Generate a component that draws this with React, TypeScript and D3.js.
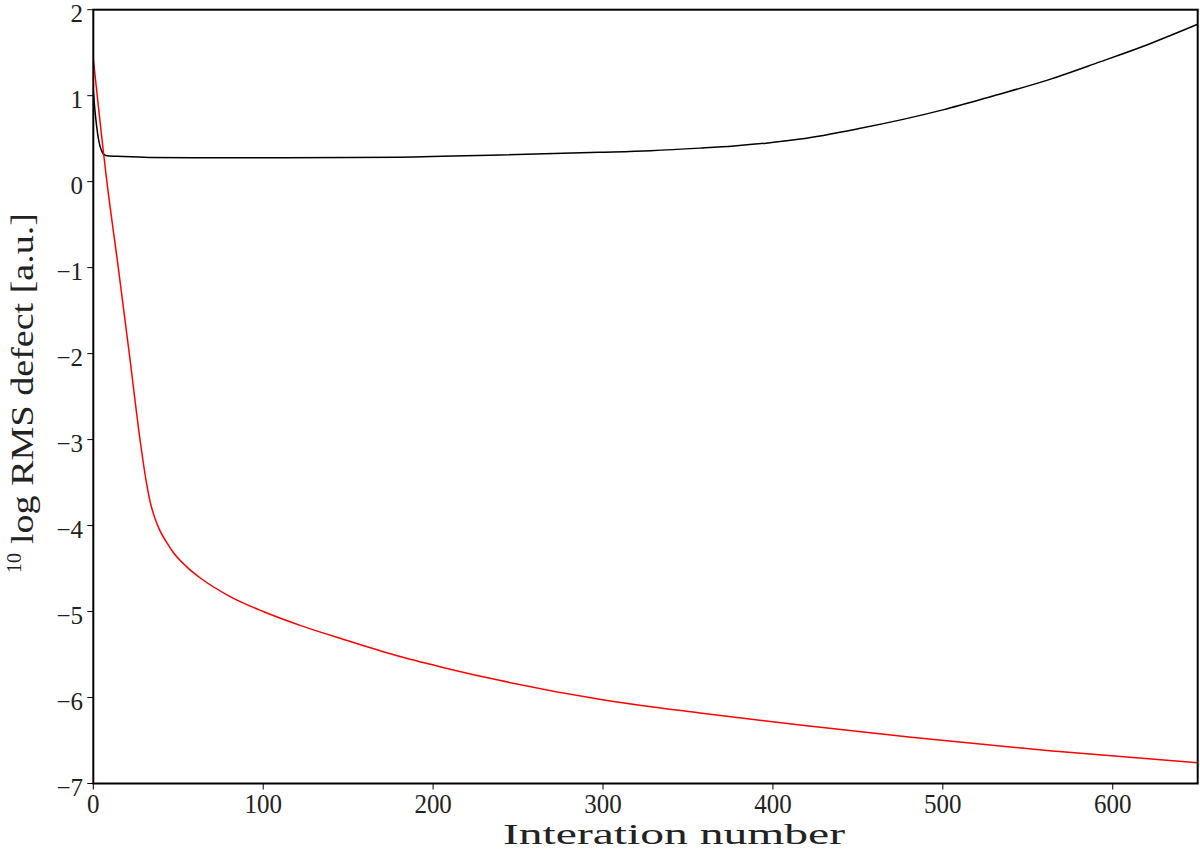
import React from "react";
import * as d3 from "d3";

const xTicks = [0, 100, 200, 300, 400, 500, 600];
const yTicks = [-7, -6, -5, -4, -3, -2, -1, 0, 1, 2];

// red series: iteration, 10log RMS defect
const redIter = [0, 8, 14.7, 21.2, 27.5, 31, 33.4, 36, 39, 43, 47, 55, 63, 80, 100, 123, 150, 180, 210, 239, 298, 357, 416, 480, 563, 650];
const redVal = [1.43, 0, -1, -2, -3, -3.47, -3.72, -3.9, -4.05, -4.19, -4.31, -4.48, -4.61, -4.82, -5.0, -5.17, -5.34, -5.52, -5.67, -5.8, -6.02, -6.18, -6.32, -6.46, -6.62, -6.76];

// black series
const blackIter = [0, 1, 2, 3, 4, 5, 6, 8, 14, 33, 60, 100, 150, 180, 239, 298, 328, 357, 377, 396, 416, 450, 500, 530, 563, 592, 620, 650];
const blackVal = [1.05, 0.82, 0.64, 0.5, 0.41, 0.355, 0.32, 0.3, 0.295, 0.282, 0.278, 0.279, 0.281, 0.285, 0.31, 0.341, 0.36, 0.39, 0.415, 0.448, 0.495, 0.615, 0.835, 1.0, 1.19, 1.39, 1.59, 1.83];

const W = 1200;
const H = 851;
const left = 93.3;
const right = 1197.7;
const top = 9.7;
const bottom = 783.5;

export default function App() {
  const x = d3.scaleLinear().domain([0, 650]).range([left, right]);
  const y = d3.scaleLinear().domain([-7, 2]).range([bottom, top]);
  const line = d3
    .line<[number, number]>()
    .x((d) => x(d[0]))
    .y((d) => y(d[1]))
    .curve(d3.curveMonotoneX);
  const red = redIter.map((v, i) => [v, redVal[i]] as [number, number]);
  const black = blackIter.map((v, i) => [v, blackVal[i]] as [number, number]);
  const font = "'Liberation Serif', 'Times New Roman', serif";
  const fmt = (v: number) => (v < 0 ? "\u2212" + Math.abs(v) : String(v));

  return (
    <svg
      width={W}
      height={H}
      style={{ position: "absolute", left: 0, top: 0, background: "#fff" }}
      fontFamily={font}
    >
      <defs>
        <clipPath id="plotclip">
          <rect x={left} y={top} width={right - left} height={bottom - top} />
        </clipPath>
      </defs>
      <g clipPath="url(#plotclip)">
        <path d={line(black) || ""} fill="none" stroke="#000" strokeWidth={1.5} />
        <path d={line(red) || ""} fill="none" stroke="#ff0000" strokeWidth={1.5} />
      </g>
      <rect
        x={left}
        y={top}
        width={right - left}
        height={bottom - top}
        fill="none"
        stroke="#000"
        strokeWidth={2}
      />
      {xTicks.map((t) => (
        <g key={"x" + t}>
          <line x1={x(t)} x2={x(t)} y1={bottom} y2={bottom + 6} stroke="#000" strokeWidth={1} />
          <text
            transform={`translate(${x(t)},${813}) scale(1,1.12)`}
            textAnchor="middle"
            fontSize={25}
            fill="#222"
          >
            {fmt(t)}
          </text>
        </g>
      ))}
      {yTicks.map((t) => (
        <g key={"y" + t}>
          <line x1={left - 6} x2={left} y1={y(t)} y2={y(t)} stroke="#000" strokeWidth={1} />
          <text
            x={83}
            y={y(t) + 12}
            textAnchor="end"
            fontSize={25}
            fill="#222"
          >
            {fmt(t)}
          </text>
        </g>
      ))}
      <text
        x={674}
        y={844}
        textAnchor="middle"
        fontSize={30}
        fill="#222"
        textLength={342}
        lengthAdjust="spacingAndGlyphs"
      >
        Interation number
      </text>
      <text
        transform={`translate(21,573) rotate(-90)`}
        textAnchor="start"
        fontSize={20}
        fill="#222"
      >
        10
      </text>
      <text
        transform={`translate(33,544) rotate(-90)`}
        textAnchor="start"
        fontSize={32}
        fill="#222"
        textLength={331}
        lengthAdjust="spacingAndGlyphs"
      >
        log RMS defect [a.u.]
      </text>
    </svg>
  );
}
